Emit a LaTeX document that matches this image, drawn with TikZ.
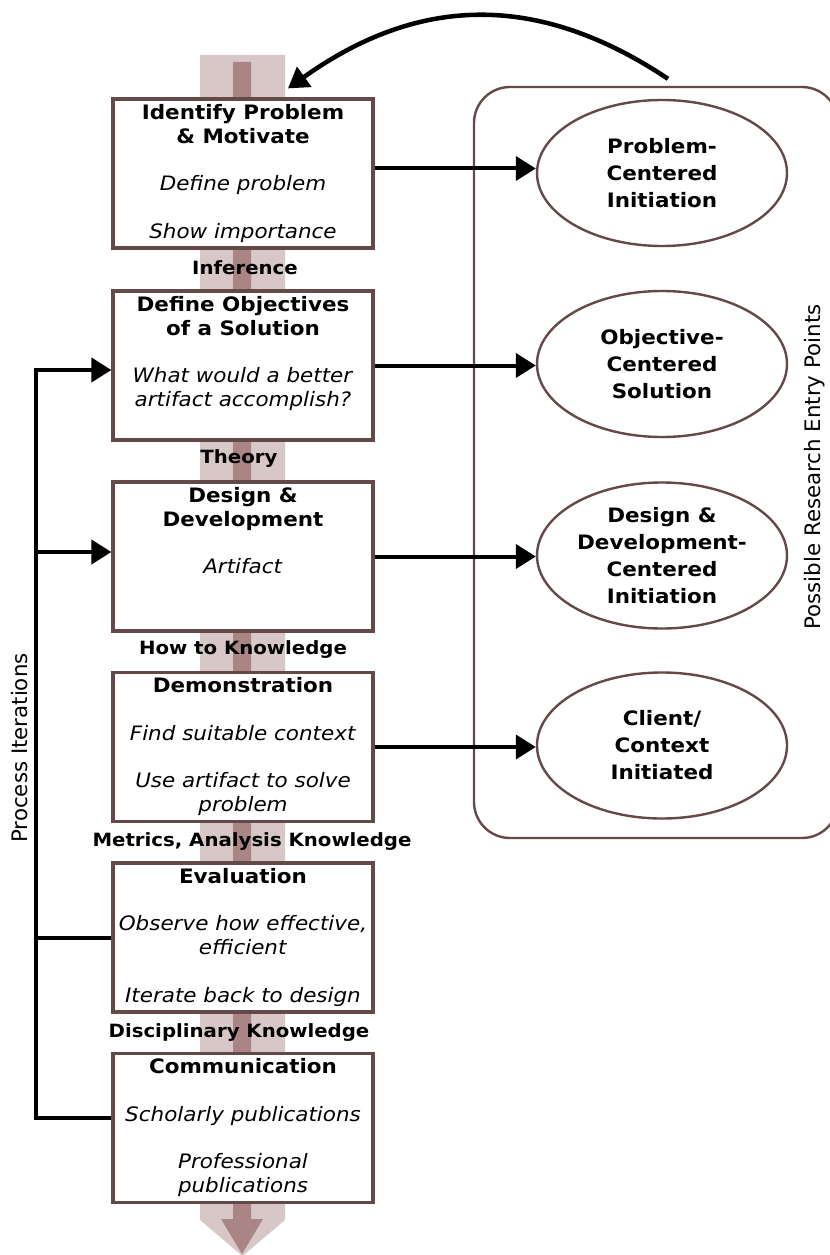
\documentclass[tikz,border=0pt]{standalone}
\usepackage{fontspec}
\setmainfont{DejaVu Sans}[FakeStretch=1.08]
\newfontfamily\sidefont{DejaVu Sans}
\usetikzlibrary{arrows.meta,shapes.geometric,calc}

\definecolor{frame}{HTML}{654848}
\definecolor{bandlight}{HTML}{D8C7C7}
\definecolor{banddark}{HTML}{A98585}

% one bold heading line and one italic note line inside a process box
\newcommand\bh[1]{\textbf{#1}}
\newcommand\bn[1]{\textit{#1}}
\newcommand\gapline{\\[17.85pt]}

\tikzset{
  stepbox/.style={draw=frame, line width=2.4pt, fill=white,
    minimum width=195pt, minimum height=111.75pt, inner sep=0pt},
  boxtext/.style={anchor=north, align=center, inner sep=0pt,
    font=\fontsize{14.9pt}{17.85pt}\selectfont},
  entrynode/.style={ellipse, draw=frame, line width=1.8pt, fill=white,
    minimum width=187.5pt, minimum height=109.5pt, inner sep=0pt,
    align=center, font=\bfseries\fontsize{14.9pt}{20.25pt}\selectfont},
  flowlabel/.style={anchor=base, inner sep=0pt,
    font=\bfseries\fontsize{13.7pt}{16pt}\selectfont},
  sidelabel/.style={rotate=90, inner sep=0pt,
    font=\sidefont\fontsize{16pt}{19pt}\selectfont},
  link/.style={line width=3pt},
  conn/.style={link, -{Triangle[length=15pt,width=18pt]}},
}

\begin{document}
\begin{tikzpicture}[x=0.75pt,y=-0.75pt]
\useasboundingbox (0,0) rectangle (830,1255);

% wide process arrow running behind the steps
\fill[bandlight] (200,55) -- (285,55) -- (285,1220) -- (242.5,1256) -- (200,1220) -- cycle;
\fill[banddark] (233,62) -- (251,62) -- (251,1219) -- (263,1219) -- (242,1254)
  -- (221,1219) -- (233,1219) -- cycle;

% process steps
\node[stepbox] (b1) at (243,173.5) {};
\node[stepbox] (b2) at (243,365.5) {};
\node[stepbox] (b3) at (243,556.5) {};
\node[stepbox] (b4) at (243,747) {};
\node[stepbox] (b5) at (243,937.5) {};
\node[stepbox] (b6) at (243,1128) {};

\node[boxtext] (t1) at ($(b1.north)+(0,6.5)$)
  {\bh{Identify Problem}\\\bh{\& Motivate}\gapline\bn{Define problem}\gapline\bn{Show importance}};
\node[boxtext] (t2) at ($(b2.north)+(0,6.5)$)
  {\bh{Define Objectives}\\\bh{of a Solution}\gapline\bn{What would a better}\\\bn{artifact accomplish?}};
\node[boxtext] (t3) at ($(b3.north)+(0,6.5)$)
  {\bh{Design \&}\\\bh{Development}\gapline\bn{Artifact}};
\node[boxtext] (t4) at ($(b4.north)+(0,6.5)$)
  {\bh{Demonstration}\gapline\bn{Find suitable context}\gapline\bn{Use artifact to solve}\\\bn{problem}};
\node[boxtext] (t5) at ($(b5.north)+(0,6.5)$)
  {\bh{Evaluation}\gapline\bn{Observe how effective,}\\\bn{efficient}\gapline\bn{Iterate back to design}};
\node[boxtext] (t6) at ($(b6.north)+(0,6.5)$)
  {\bh{Communication}\gapline\bn{Scholarly publications}\gapline\bn{Professional}\\\bn{publications}};

% knowledge flowing between steps
\node[flowlabel] (k1) at (245,274.5) {Inference};
\node[flowlabel] (k2) at (239,463.5) {Theory};
\node[flowlabel] (k3) at (243,654.5) {How to Knowledge};
\node[flowlabel] (k4) at (252,846.5) {Metrics, Analysis Knowledge};
\node[flowlabel] (k5) at (239,1037.5) {Disciplinary Knowledge};

% entry points panel
\node[draw=frame, line width=1.8pt, rounded corners=27pt,
  minimum width=273pt, minimum height=563.25pt, inner sep=0pt] (zone) at (656,462.5) {};
\node[sidelabel] (zonelbl) at (815,467) {Possible Research Entry Points};

\node[entrynode] (e1) at (662,173) {Problem-\\Centered\\Initiation};
\node[entrynode] (e2) at (662,364) {Objective-\\Centered\\Solution};
\node[entrynode] (e3) at (662,555.5) {Design \&\\Development-\\Centered\\Initiation};
\node[entrynode] (e4) at (662,745.5) {Client/\\Context\\Initiated};

\draw[conn] ([yshift=3.75pt]b1.east) -- ([yshift=3.75pt]b1.east -| e1.west);
\draw[conn] (b2.east) -- (b2.east -| e2.west);
\draw[conn] (b3.east) -- (b3.east -| e3.west);
\draw[conn] (b4.east) -- (b4.east -| e4.west);

% iteration loop on the left
\coordinate (lt) at (36,370);
\coordinate (lm) at (36,552);
\coordinate (lb) at (36,1118);
\draw[conn] ([yshift=7.5pt]b6.west) -- (lb) -- (lt) -- (lt -| b2.west);
\draw[conn] (lm) -- (lm -| b3.west);
\draw[link] (b5.west) -- (b5.west -| lt);
\node[sidelabel] (looplbl) at (20,748) {Process Iterations};

% return arrow from the entry points back to the first step
\draw[conn, line width=3.4pt] ($(zone.north)+(12,-7)$) .. controls +(-132,-88) and +(129,-92) .. ($(b1.north)+(45,-9)$);
\end{tikzpicture}
\end{document}
